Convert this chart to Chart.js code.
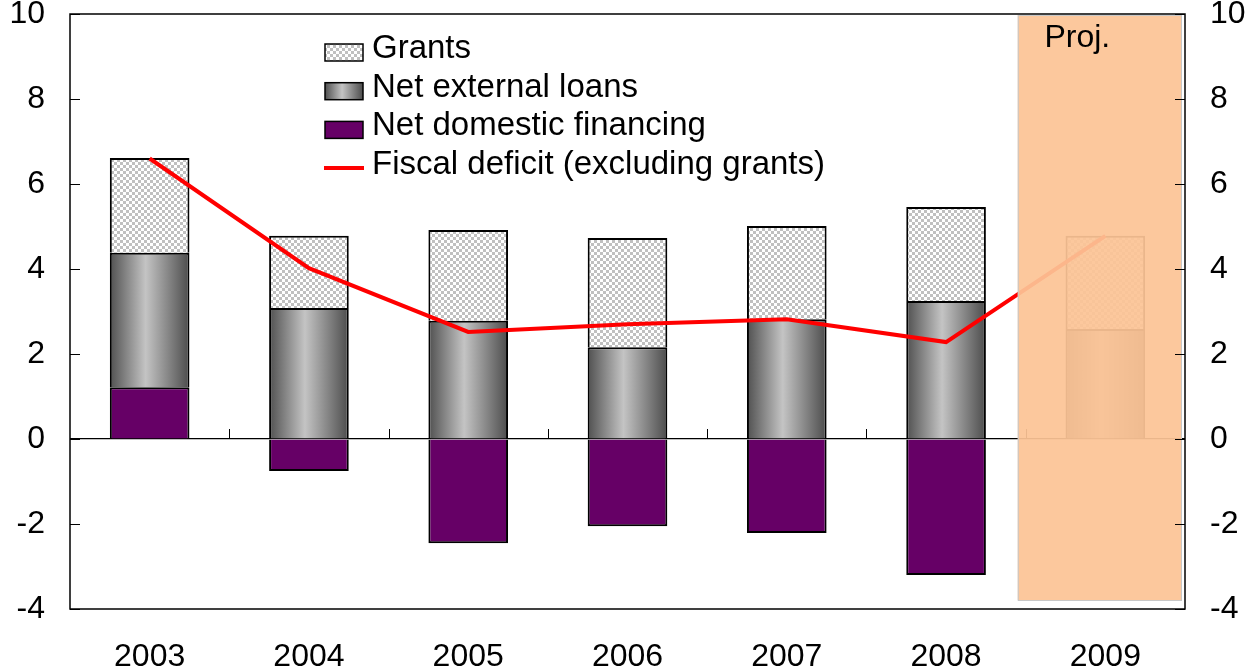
<!DOCTYPE html>
<html>
<head>
<meta charset="utf-8">
<script src="https://cdn.jsdelivr.net/npm/chart.js@4.4.1/dist/chart.umd.min.js"></script>
<style>
  html, body { margin: 0; padding: 0; background: #fff; }
</style>
</head>
<body>
<canvas id="financeChart" width="1247" height="671"></canvas>
<script>
const years = ['2003', '2004', '2005', '2006', '2007', '2008', '2009'];
const domesticFinancing = [1.22, -0.75, -2.45, -2.05, -2.21, -3.2, 0];
const externalLoans = [3.16, 3.08, 2.78, 2.16, 2.82, 3.25, 2.59];
const grants = [2.23, 1.7, 2.14, 2.57, 2.19, 2.21, 2.19];
const fiscalDeficit = [6.6, 4.02, 2.52, 2.7, 2.82, 2.28, 4.78];
const yTicks = [-4, -2, 0, 2, 4, 6, 8, 10];

const FONT = 'Arial, "Liberation Sans", sans-serif';
const projIndex = 6;

// checker pattern for grants
function makeChecker(ctx) {
    const c = document.createElement('canvas');
    c.width = 6; c.height = 6;
    const g = c.getContext('2d');
    g.fillStyle = '#ffffff';
    g.fillRect(0, 0, 6, 6);
    g.fillStyle = '#c0c0c0';
    g.fillRect(0, 0, 3, 3);
    g.fillRect(3, 3, 3, 3);
    return ctx.createPattern(c, 'repeat');
}

function cylinder(ctx, x0, x1) {
    const g = ctx.createLinearGradient(x0, 0, x1, 0);
    g.addColorStop(0, '#505050');
    g.addColorStop(0.45, '#c4c4c4');
    g.addColorStop(1, '#4c4c4c');
    return g;
}

const ctx = document.getElementById('financeChart').getContext('2d');
const checker = makeChecker(ctx);

// frame, ticks, projection shading and legend
const decorations = {
    id: 'decorations',
    afterDatasetsDraw(chart) {
        const c = chart.ctx;
        const area = chart.chartArea;
        const xs = chart.scales.x;
        const ys = chart.scales.y;
        const y0 = ys.getPixelForValue(0);
        const step = xs.width / years.length;

        c.save();
        c.strokeStyle = '#000';
        c.lineWidth = 1;
        // category ticks on the zero line
        for (let i = 0; i < years.length - 1; i++) {
            const x = Math.round(xs.getPixelForValue(i) + step / 2) + 0.5;
            c.beginPath();
            c.moveTo(x, y0);
            c.lineTo(x, y0 - 10);
            c.stroke();
        }

        // projection shading
        const px0 = xs.getPixelForValue(projIndex) - step * 0.55;
        const px1 = area.right - 4;
        const py1 = ys.getPixelForValue(-4) - 9;
        c.fillStyle = 'rgba(252, 196, 150, 0.93)';
        c.fillRect(px0, area.top + 1, px1 - px0, py1 - area.top - 1);
        c.strokeStyle = '#c8c8c8';
        c.strokeRect(px0 + 0.5, area.top + 1.5, px1 - px0, py1 - area.top - 1);
        c.fillStyle = '#000';
        c.font = '32px ' + FONT;
        c.textAlign = 'center';
        c.textBaseline = 'middle';
        c.fillText('Proj.', xs.getPixelForValue(projIndex) - 28, area.top + 24);

        // inward ticks on both value axes
        c.strokeStyle = '#000';
        yTicks.forEach(v => {
            const y = Math.round(ys.getPixelForValue(v)) + 0.5;
            c.beginPath();
            c.moveTo(area.left, y);
            c.lineTo(area.left + 10, y);
            c.moveTo(area.right, y);
            c.lineTo(area.right - 10, y);
            c.stroke();
        });

        // box
        c.lineWidth = 1.5;
        c.strokeRect(area.left, area.top, area.right - area.left, area.bottom - area.top);

        // legend
        const items = [
            { label: 'Grants', kind: 'box', fill: checker },
            { label: 'Net external loans', kind: 'grad' },
            { label: 'Net domestic financing', kind: 'box', fill: '#660066' },
            { label: 'Fiscal deficit (excluding grants)', kind: 'line' }
        ];
        const lx = 325, tx = 372;
        let ly = 49;
        c.font = '33px ' + FONT;
        c.textAlign = 'left';
        c.textBaseline = 'middle';
        items.forEach(it => {
            const by = ly + 3;
            if (it.kind === 'line') {
                c.strokeStyle = '#ff0000';
                c.lineWidth = 4;
                c.beginPath();
                c.moveTo(lx - 1, by);
                c.lineTo(lx + 39, by);
                c.stroke();
            } else {
                c.fillStyle = it.kind === 'grad' ? cylinder(c, lx, lx + 38) : it.fill;
                c.fillRect(lx, by - 8, 38, 17);
                c.strokeStyle = '#000';
                c.lineWidth = 1.5;
                c.strokeRect(lx, by - 8, 38, 17);
            }
            c.fillStyle = '#000';
            c.fillText(it.label, tx, ly);
            ly += 38.7;
        });
        c.restore();
    }
};

const barWidthShare = 0.5;

new Chart(ctx, {
    data: {
        labels: years,
        datasets: [{
            type: 'bar',
            label: 'Net domestic financing',
            data: domesticFinancing,
            backgroundColor: '#660066',
            borderColor: '#000',
            borderWidth: 2,
            stack: 'fin',
            order: 1
        }, {
            type: 'bar',
            label: 'Net external loans',
            data: externalLoans,
            backgroundColor: function(context) {
                const chart = context.chart;
                const xs = chart.scales.x;
                if (!xs || context.dataIndex === undefined) return '#999';
                const cx = xs.getPixelForValue(context.dataIndex);
                const half = xs.width / years.length * barWidthShare / 2;
                if (!isFinite(cx) || !isFinite(half)) return '#999';
                return cylinder(chart.ctx, cx - half, cx + half);
            },
            borderColor: '#000',
            borderWidth: 2,
            stack: 'fin',
            order: 1
        }, {
            type: 'bar',
            label: 'Grants',
            data: grants,
            backgroundColor: checker,
            borderColor: '#000',
            borderWidth: 2,
            stack: 'fin',
            order: 1
        }, {
            type: 'line',
            label: 'Fiscal deficit (excluding grants)',
            data: fiscalDeficit,
            borderColor: '#ff0000',
            borderWidth: 4,
            pointRadius: 0,
            tension: 0,
            fill: false,
            stack: 'line',
            order: 0
        }]
    },
    options: {
        responsive: false,
        animation: false,
        devicePixelRatio: 1,
        layout: { padding: { top: 14, left: 0, right: 0, bottom: 0 } },
        datasets: {
            bar: { categoryPercentage: 1, barPercentage: barWidthShare }
        },
        plugins: {
            legend: { display: false },
            tooltip: { enabled: false }
        },
        scales: {
            x: {
                stacked: true,
                grid: { display: false, drawTicks: false },
                border: { display: false },
                ticks: { color: '#000', font: { family: FONT, size: 32 }, padding: 29, maxRotation: 0 },
                afterFit: s => { s.height = 62; s.paddingLeft = 0; s.paddingRight = 0; }
            },
            y: {
                stacked: true,
                position: 'left',
                min: -4, max: 10,
                grid: {
                    drawTicks: false,
                    color: c => c.tick && c.tick.value === 0 ? '#000' : 'rgba(0,0,0,0)',
                    lineWidth: 1.2
                },
                border: { display: false },
                ticks: { stepSize: 2, color: '#000', font: { family: FONT, size: 32 }, padding: 25 },
                afterFit: s => { s.width = 70; s.paddingTop = 0; s.paddingBottom = 0; }
            },
            y2: {
                position: 'right',
                min: -4, max: 10,
                grid: { display: false, drawTicks: false },
                border: { display: false },
                ticks: { stepSize: 2, color: '#000', font: { family: FONT, size: 32 }, padding: 25 },
                afterFit: s => { s.width = 62; s.paddingTop = 0; s.paddingBottom = 0; }
            }
        }
    },
    plugins: [decorations]
});
</script>
</body>
</html>
